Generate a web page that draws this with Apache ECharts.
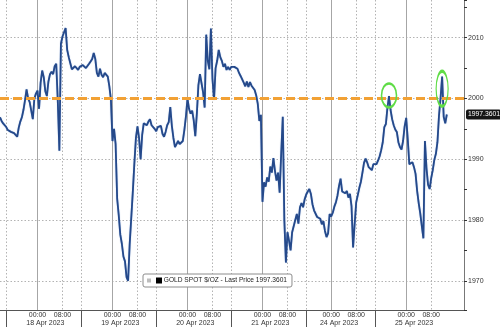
<!DOCTYPE html>
<html>
<head>
<meta charset="utf-8">
<script src="https://cdn.jsdelivr.net/npm/echarts@6/dist/echarts.min.js"></script>
<style>
html,body{margin:0;padding:0;background:#fff;}
#chart{width:500px;height:327px;}
</style>
</head>
<body>
<div id="chart"></div>
<script>
// ---------- DATA ----------
const seriesName = 'GOLD SPOT $/OZ - Last Price 1997.3601';
const lastPriceLabel = '1997.3601';
const lastPrice = 1997.3601;
const refLevel = 2000;
// trading sessions shown (weekend removed), half-hour slots
const sessions = [
  ['2023-04-17T12:00', '2023-04-21T14:00'],
  ['2023-04-23T16:30', '2023-04-25T18:30']
];
const slotMinutes = 30;
const timeTickLabels = ['00:00', '08:00'];
const dayBreakTime = '14:00';
const dateLabelTime = '02:30';
const yRange = [1965.2, 2016.2];

const prices = [
1996.9,1996.3,1995.9,1995.6,1995.3,1994.8,1994.6,1994.5,1994.4,1994.3,
1994.0,1993.7,1995.2,1996.2,1996.9,1998.1,1999.7,2001.5,2000.0,1999.4,
1999.7,1996.6,2000.0,2000.8,2001.3,1998.3,2002.6,2004.6,2003.5,2001.2,
2000.4,2002.8,2004.0,2004.4,2004.0,2005.3,2005.7,1999.5,1991.4,2009.0,
2010.2,2010.9,2011.6,2008.0,2006.8,2005.8,2004.8,2004.5,2005.3,2005.4,
2004.7,2005.2,2004.9,2005.5,2005.2,2005.0,2005.2,2005.7,2006.1,2006.5,
2007.5,2006.5,2004.2,2003.6,2004.9,2003.9,2003.5,2004.2,2003.9,2003.6,
2002.0,1999.8,1993.0,1995.0,1992.5,1983.5,1980.8,1977.6,1976.1,1974.0,
1973.2,1970.6,1970.0,1976.0,1980.3,1984.6,1989.3,1993.5,1995.4,1993.5,
1990.0,1994.0,1995.9,1996.1,1995.6,1996.2,1996.6,1995.6,1995.3,1995.0,
1994.6,1995.3,1995.5,1995.5,1994.2,1993.7,1994.5,1995.6,1996.1,1998.6,
1995.5,1993.5,1992.0,1992.5,1993.0,1992.5,1992.2,1993.0,1994.8,1997.0,
2000.0,1998.3,1997.5,1998.0,1996.4,1993.8,1997.5,2002.2,2004.0,2002.5,
2001.0,1998.5,2010.5,2006.2,2004.8,2011.5,2003.2,1999.8,2005.0,2006.2,
2008.0,2006.8,2006.2,2005.2,2005.7,2004.7,2005.2,2004.7,2005.2,2005.0,
2005.2,2004.9,2004.9,2004.2,2003.7,2003.8,2002.6,2002.0,2002.8,2001.9,
2002.7,2002.1,2001.9,2001.4,2000.5,1999.1,1996.3,1997.3,1983.0,1986.2,
1985.5,1987.0,1986.3,1988.8,1987.8,1990.2,1988.1,1986.5,1987.8,1984.5,
1991.0,1997.0,1980.0,1973.0,1978.0,1976.6,1975.0,1978.0,1978.0,1980.0,
1981.0,1979.4,1982.1,1982.8,1982.1,1983.4,1984.2,1984.7,1985.1,1984.3,
1982.6,1981.6,1981.5,1980.5,1980.8,1980.2,1979.3,1979.8,1978.2,1977.2,
1977.8,1981.0,1980.6,1981.2,1982.2,1982.9,1984.0,1985.6,1986.8,1984.7,
1984.5,1984.4,1984.8,1983.7,1984.3,1982.3,1975.5,1979.3,1982.9,1983.0,
1985.3,1986.3,1987.8,1989.4,1990.1,1989.5,1988.7,1989.0,1988.2,1989.2,
1989.4,1989.2,1989.8,1990.5,1991.5,1992.8,1995.3,1995.8,1998.5,2000.4,
1998.1,1996.6,1995.6,1994.9,1994.5,1992.8,1992.0,1991.6,1993.0,1995.4,
1996.8,1993.3,1989.2,1989.4,1989.5,1988.7,1987.6,1984.8,1982.8,1981.1,
1979.0,1977.0,1993.0,1988.5,1985.8,1985.1,1986.9,1988.2,1989.9,1990.9,
1992.8,1997.2,2000.1,2003.6,1997.0,1995.9,1997.36
];
// circled highlights: [slot index, price]
const highlights = [[249, 2000.5], [283, 2001.6]];

// ---------- BUILD CATEGORIES ----------
const MONTHS = ['Jan','Feb','Mar','Apr','May','Jun','Jul','Aug','Sep','Oct','Nov','Dec'];
const pad = n => String(n).padStart(2, '0');
const categories = [];
sessions.forEach(([a, b]) => {
  const end = Date.parse(b + ':00Z');
  for (let t = Date.parse(a + ':00Z'); t <= end; t += slotMinutes * 60000) {
    const d = new Date(t);
    categories.push(pad(d.getUTCDate()) + ' ' + MONTHS[d.getUTCMonth()] + ' ' + d.getUTCFullYear() +
      ' ' + pad(d.getUTCHours()) + ':' + pad(d.getUTCMinutes()));
  }
});
const timeOf = v => v.slice(-5);
const dateOf = v => v.slice(0, 11);
const isBreak = (i, v) => timeOf(v) === dayBreakTime && i < prices.length;

// ---------- CHART ----------
const FONT = 'Liberation Sans';
const chart = echarts.init(document.getElementById('chart'), null, {renderer: 'canvas'});
chart.setOption({
  animation: false,
  backgroundColor: '#fff',
  textStyle: {fontFamily: FONT},
  grid: {left: 0, right: 36, top: 0, bottom: 17, containLabel: false},
  legend: {
    left: 143, top: 274,
    padding: [3, 5, 3, 4],
    itemWidth: 4, itemHeight: 4,
    selectedMode: false,
    backgroundColor: '#fff',
    borderColor: '#8c8c8c', borderWidth: 1, borderRadius: 2,
    data: [{name: seriesName, icon: 'rect', itemStyle: {color: '#bdbdbd'}}],
    formatter: n => '{b| } ' + n,
    textStyle: {
      fontSize: 6.6, color: '#222', fontFamily: FONT,
      rich: {b: {width: 6, height: 6, backgroundColor: '#000'}}
    }
  },
  xAxis: [
    {
      type: 'category', data: categories, boundaryGap: false,
      axisLine: {show: true, lineStyle: {color: '#555', width: 1}},
      axisTick: {show: true, interval: isBreak, length: 17, lineStyle: {color: '#555'}},
      axisLabel: {
        interval: (i, v) => timeTickLabels.includes(timeOf(v)),
        formatter: v => timeOf(v),
        fontSize: 7, color: '#333', margin: 2, fontFamily: FONT
      },
      splitLine: {show: true, interval: (i, v) => timeOf(v) === '00:00',
        lineStyle: {color: '#a6a6a6', width: 1}}
    },
    {
      type: 'category', data: categories, boundaryGap: false, position: 'bottom',
      axisLine: {show: false}, axisTick: {show: false},
      axisLabel: {
        interval: (i, v) => timeOf(v) === dateLabelTime,
        formatter: v => dateOf(v),
        fontSize: 7, color: '#333', margin: 10, fontFamily: FONT
      },
      splitLine: {show: true, interval: (i, v) => timeOf(v) === '08:00' || isBreak(i, v),
        lineStyle: {color: '#b3b3b3', width: 1, type: [1.5, 2]}}
    }
  ],
  yAxis: {
    type: 'value', position: 'right', min: yRange[0], max: yRange[1], splitNumber: 5,
    axisLine: {show: true, lineStyle: {color: '#777'}},
    axisTick: {show: true, length: 3, lineStyle: {color: '#333'}},
    minorTick: {show: true, splitNumber: 2, length: 3, lineStyle: {color: '#333'}},
    axisLabel: {fontSize: 7, margin: 4, color: '#333', fontFamily: FONT,
      showMinLabel: false, showMaxLabel: false, formatter: v => String(v)},
    splitLine: {show: true, showMinLine: false, showMaxLine: false,
      lineStyle: {color: '#b3b3b3', width: 1, type: [1.5, 2]}}
  },
  series: [{
    type: 'line', name: seriesName, data: prices,
    xAxisIndex: 0, yAxisIndex: 0,
    showSymbol: false, symbol: 'none',
    lineStyle: {color: '#25498a', width: 1.8, shadowColor: 'rgba(70,120,200,0.6)', shadowBlur: 1},
    itemStyle: {color: '#25498a'},
    z: 3,
    markLine: {
      silent: true, symbol: 'none', animation: false,
      data: [
        {yAxis: refLevel, lineStyle: {color: '#f2a134', width: 3, type: [9, 4]}, label: {show: false}},
        {yAxis: lastPrice, lineStyle: {color: 'rgba(0,0,0,0)', width: 0.01}, label: {
          show: true, position: 'end', distance: 2, formatter: lastPriceLabel,
          color: '#fff', backgroundColor: '#151515', padding: [2, 1, 1, 2], borderRadius: 2,
          fontSize: 6.8, fontFamily: FONT
        }}
      ]
    },
    markPoint: {
      silent: true, animation: false,
      symbol: 'circle',
      label: {show: false},
      itemStyle: {color: 'rgba(0,0,0,0)', borderColor: '#5fdc46', borderWidth: 2},
      data: highlights.map((h, k) => ({
        coord: [categories[h[0]], h[1]],
        symbolSize: k === 0 ? [15, 24] : [12, 35]
      }))
    }
  }]
});
</script>
</body>
</html>
